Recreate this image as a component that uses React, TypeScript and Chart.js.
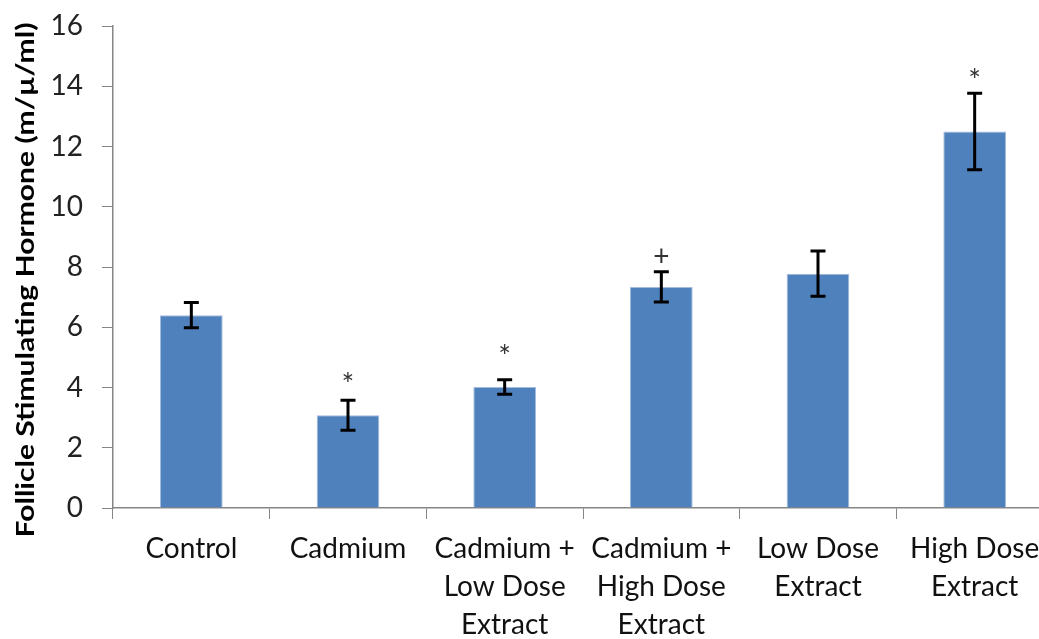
import { useEffect, useRef } from 'react';
import { Chart, registerables } from 'chart.js';

Chart.register(...registerables);

const categories: string[][] = [
  ['Control'],
  ['Cadmium'],
  ['Cadmium +', 'Low Dose', 'Extract'],
  ['Cadmium +', 'High Dose', 'Extract'],
  ['Low Dose', 'Extract'],
  ['High Dose', 'Extract'],
];
const fshValues = [6.4, 3.08, 4.02, 7.34, 7.78, 12.5];
const fshErrors = [0.42, 0.5, 0.24, 0.5, 0.75, 1.27];
const markLabels = ['', '*', '*', '+', '', '*'];
const markValues: (number | null)[] = [null, 4.34, 5.27, 8.37, null, 14.43];
const yTicks = [0, 2, 4, 6, 8, 10, 12, 14, 16];
const yTitle = 'Follicle Stimulating Hormone (m/\u00b5/ml)';

const FONT = 'Lato, "Noto Sans", sans-serif';

const extrasPlugin = {
  id: 'extras',
  afterDatasetsDraw(chart: any) {
    const ctx = chart.ctx as CanvasRenderingContext2D;
    const meta = chart.getDatasetMeta(0);
    const ys = chart.scales.y;
    ctx.save();
    // error bars
    ctx.strokeStyle = '#000';
    ctx.lineWidth = 3;
    ctx.lineCap = 'butt';
    meta.data.forEach((bar: any, i: number) => {
      const x = bar.x;
      const top = ys.getPixelForValue(fshValues[i] + fshErrors[i]);
      const bot = ys.getPixelForValue(fshValues[i] - fshErrors[i]);
      const cw = 7.5;
      ctx.beginPath();
      ctx.moveTo(x, top);
      ctx.lineTo(x, bot);
      ctx.moveTo(x - cw, top);
      ctx.lineTo(x + cw, top);
      ctx.moveTo(x - cw, bot);
      ctx.lineTo(x + cw, bot);
      ctx.stroke();
    });
    // significance marks
    ctx.fillStyle = '#333';
    ctx.textAlign = 'center';
    ctx.textBaseline = 'alphabetic';
    meta.data.forEach((bar: any, i: number) => {
      const v = markValues[i];
      if (v == null || !markLabels[i]) return;
      ctx.font = markLabels[i] === '*' ? `30px ${FONT}` : `28px ${FONT}`;
      const y = ys.getPixelForValue(v);
      const m = ctx.measureText(markLabels[i]);
      const off = (m.actualBoundingBoxAscent - m.actualBoundingBoxDescent) / 2;
      ctx.fillText(markLabels[i], bar.x, y + off);
    });
    ctx.restore();
  },
  afterDraw(chart: any) {
    const ctx = chart.ctx as CanvasRenderingContext2D;
    ctx.save();
    ctx.font = `bold 25px ${FONT}`;
    ctx.fillStyle = '#000';
    ctx.textAlign = 'center';
    ctx.textBaseline = 'middle';
    const w = ctx.measureText(yTitle).width;
    const targetLen = 515;
    ctx.translate(26, 280);
    ctx.rotate(-Math.PI / 2);
    ctx.scale(targetLen / w, 1);
    ctx.fillText(yTitle, 0, 0);
    ctx.restore();
  },
};

export default function App() {
  const ref = useRef<HTMLCanvasElement | null>(null);
  useEffect(() => {
    if (!ref.current) return;
    const chart = new Chart(ref.current, {
      type: 'bar',
      data: {
        labels: categories,
        datasets: [
          {
            label: 'FSH',
            data: fshValues,
            backgroundColor: '#4F81BD',
            borderColor: '#A3BBDD',
            borderWidth: 1,
            barPercentage: 0.4,
            categoryPercentage: 1,
          },
        ],
      },
      options: {
        responsive: false,
        animation: false,
        layout: { padding: { top: 26, left: 0, right: 0, bottom: 0 } },
        plugins: {
          legend: { display: false },
          tooltip: { enabled: false },
          title: { display: false },
        },
        scales: {
          x: {
            grid: {
              offset: true,
              drawOnChartArea: false,
              drawTicks: true,
              tickLength: 11,
              color: '#868686',
              lineWidth: 1,
            },
            border: { display: true, color: '#868686', width: 1.5 },
            ticks: {
              color: '#111',
              font: { family: FONT, size: 28, lineHeight: 38 / 28 },
              padding: 11,
              maxRotation: 0,
              autoSkip: false,
            },
            afterFit: (s: any) => {
              s.height = 131;
              s.paddingLeft = 0;
              s.paddingRight = 0;
            },
          },
          y: {
            min: 0,
            max: 16,
            afterBuildTicks: (s: any) => {
              s.ticks = yTicks.map((v) => ({ value: v }));
            },
            grid: {
              drawOnChartArea: false,
              drawTicks: true,
              tickLength: 11,
              color: '#868686',
              lineWidth: 1,
            },
            border: { display: true, color: '#868686', width: 1.5 },
            ticks: {
              color: '#222',
              font: { family: FONT, size: 28 },
              padding: 19,
            },
            afterFit: (s: any) => {
              s.width = 113;
              s.paddingTop = 0;
              s.paddingBottom = 0;
            },
          },
        },
      },
      plugins: [extrasPlugin],
    });
    return () => chart.destroy();
  }, []);
  return (
    <div
      style={{
        position: 'absolute',
        left: 0,
        top: 0,
        width: 1039,
        height: 639,
        overflow: 'hidden',
        background: '#fff',
      }}
    >
      <canvas
        ref={ref}
        width={1053}
        height={639}
        style={{ display: 'block', width: 1053, height: 639 }}
      />
    </div>
  );
}
